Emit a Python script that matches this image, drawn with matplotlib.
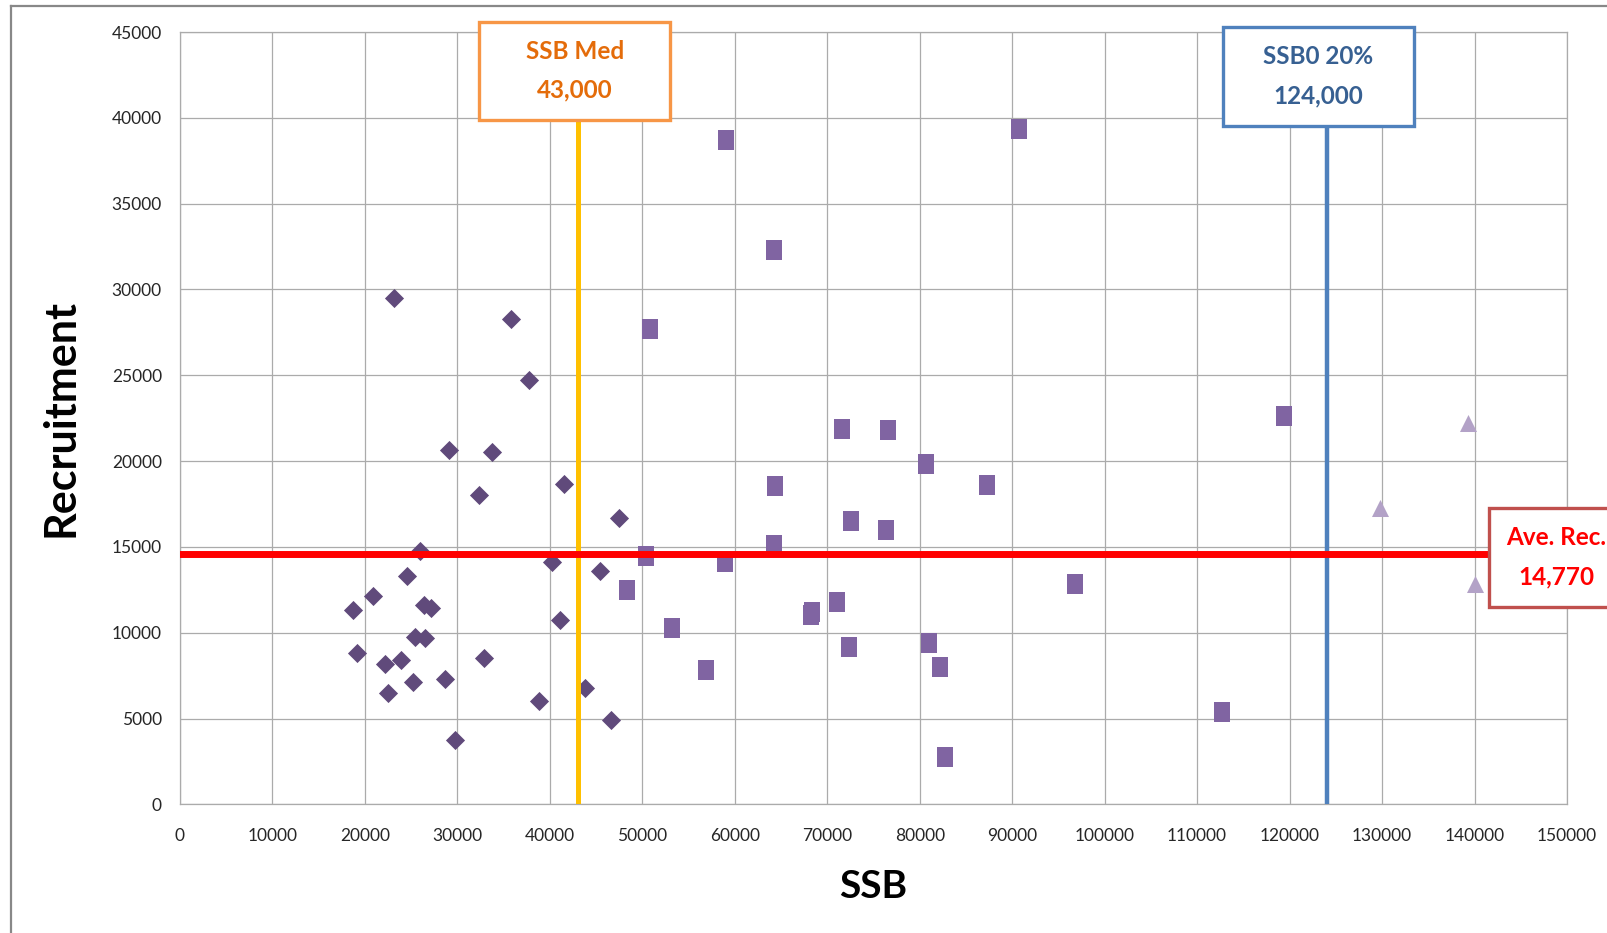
import matplotlib
matplotlib.use("Agg")
import matplotlib.pyplot as plt
import matplotlib.patches as mpatches
from matplotlib.lines import Line2D

plt.rcParams['font.family'] = ['Lato', 'DejaVu Sans']

# --- DATA ---
# diamonds: early period
DIAMOND_SSB = [23150, 35780, 37780, 29130, 33790, 41540, 32350, 47520, 25920, 40210,
               45420, 24590, 20830, 18720, 26370, 27140, 41100, 25370, 26480, 19160,
               23930, 22160, 32900, 28690, 25150, 22490, 43760, 38880, 46640, 29690]
DIAMOND_REC = [29480, 28290, 24710, 20650, 20530, 18680, 18020, 16710, 14740, 14140,
               13610, 13310, 12110, 11340, 11640, 11460, 10740, 9730, 9670, 8830,
               8410, 8180, 8530, 7280, 7100, 6500, 6800, 6030, 4890, 3760]

# squares: middle period
SQUARE_SSB = [59050, 90730, 64250, 50850, 119420, 71600, 76580, 80720, 64330, 87300,
              72620, 76350, 64250, 50370, 58940, 96820, 48300, 71020, 68330, 68280,
              53170, 80980, 72380, 82190, 56850, 112660, 82750]
SQUARE_REC = [38730, 39330, 32290, 27690, 22620, 21880, 21820, 19840, 18570, 18610,
              16530, 15990, 15100, 14490, 14140, 12830, 12490, 11810, 11230, 11030,
              10260, 9380, 9190, 8020, 7830, 5370, 2750]

# triangles: recent period
TRIANGLE_SSB = [139250, 129830, 140020]
TRIANGLE_REC = [22200, 17250, 12830]

SSB_MED = 43000
SSB0_20 = 124000
AVE_REC_LINE = 14600     # where the red line sits in the picture
AVE_REC_LABEL = '14,770'

X_TICKS = list(range(0, 150001, 10000))
Y_TICKS = list(range(0, 45001, 5000))

# --- FIGURE ---
fig = plt.figure(figsize=(16.07, 9.33), dpi=100)
ax = fig.add_axes([0.1120, 0.1379, 0.8631, 0.8278])

GRID = '#ababab'
ax.set_xlim(0, 150000)
ax.set_ylim(0, 45000)
ax.set_xticks(X_TICKS)
ax.set_yticks(Y_TICKS)
ax.set_xticklabels([str(t) for t in X_TICKS])
ax.set_yticklabels([str(t) for t in Y_TICKS])
ax.tick_params(axis='both', length=0, labelsize=12.5, labelcolor='#262626')
ax.tick_params(axis='x', pad=17)
ax.tick_params(axis='y', pad=13)
ax.grid(True, color=GRID, lw=0.9)
ax.set_axisbelow(True)
for sp in ax.spines.values():
    sp.set_color(GRID)
    sp.set_linewidth(0.9)

# scatter
ax.scatter(DIAMOND_SSB, DIAMOND_REC, marker='D', s=95, color='#604a7b', lw=0, zorder=3)
rect_marker = [(-0.82, -1), (0.82, -1), (0.82, 1), (-0.82, 1), (-0.82, -1)]
ax.scatter(SQUARE_SSB, SQUARE_REC, marker=rect_marker, s=200, color='#8064a2', lw=0, zorder=3)
ax.scatter(TRIANGLE_SSB, TRIANGLE_REC, marker='^', s=150, color='#b3a2c7', lw=0, zorder=3)

# reference lines
ax.axvline(SSB_MED, color='#ffc000', lw=3.6, zorder=4)
ax.axvline(SSB0_20, color='#4f81bd', lw=3.2, zorder=4)
ax.axhline(AVE_REC_LINE, color='#ff0000', lw=5, zorder=4)


def label_box(xc, y0, y1, w, text, edge, tcolor, tx=None):
    # box geometry in axes fractions
    r = mpatches.Rectangle((xc - w / 2, y0), w, y1 - y0, transform=ax.transAxes,
                           facecolor='white', edgecolor=edge, lw=2.4,
                           clip_on=False, zorder=6)
    ax.add_patch(r)
    ax.text(xc if tx is None else tx, (y0 + y1) / 2, text, transform=ax.transAxes,
            ha='center', va='center', fontsize=17.5, fontweight='bold',
            color=tcolor, linespacing=1.85, zorder=7, clip_on=False)


def to_ax_x(v):
    return ax.transLimits.transform((v, 0))[0]


label_box(to_ax_x(SSB_MED) - 0.002, 0.8864, 1.0131, 0.1377,
          'SSB Med\n' + f'{SSB_MED:,}', '#f79646', '#e46c0a')
label_box(to_ax_x(SSB0_20) - 0.006, 0.8786, 1.0064, 0.1377,
          'SSB0 20%\n' + f'{SSB0_20:,}', '#4f81bd', '#376092')
ave_y = ax.transLimits.transform((0, AVE_REC_LINE))[1]
label_box(0.9924, ave_y - 0.0689, ave_y + 0.0594, 0.0973,
          'Ave. Rec.\n' + AVE_REC_LABEL, '#c0504d', '#ff0000')

# axis titles
ax.set_xlabel('SSB', fontsize=28, fontweight='bold', color='black')
ax.xaxis.set_label_coords(0.5, -0.106)
ax.xaxis.label.set_va('center')
ax.set_ylabel('Recruitment', fontsize=31, fontweight='bold', color='black')
ax.yaxis.set_label_coords(-0.0858, 0.5)
ax.yaxis.label.set_va('center')

# outer chart frame (partly cut off at right / bottom)
fig.add_artist(Line2D([11 / 1607, 11 / 1607], [0, 1 - 6 / 933], transform=fig.transFigure,
                      color='#888888', lw=1.6))
fig.add_artist(Line2D([11 / 1607, 1], [1 - 6 / 933, 1 - 6 / 933], transform=fig.transFigure,
                      color='#888888', lw=1.6))

fig.savefig('out.png', dpi=100)
